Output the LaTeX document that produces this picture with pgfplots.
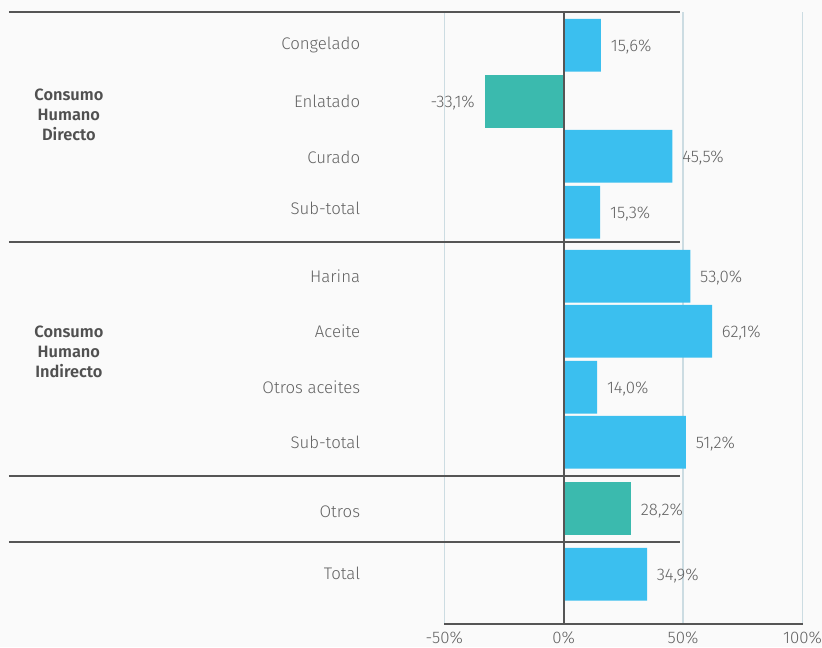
\documentclass[border=0pt]{standalone}
\usepackage{pgfplots}
\pgfplotsset{compat=1.18}
\usepackage{fontspec}
\setmainfont{Fira Sans Light}[BoldFont={Fira Sans SemiBold}]

\definecolor{bgc}{HTML}{FAFAFA}
\definecolor{barblue}{HTML}{3BBFEF}
\definecolor{barteal}{HTML}{3BBAAE}
\definecolor{linec}{HTML}{555555}
\definecolor{gridc}{HTML}{CCDCE2}
\definecolor{labc}{HTML}{626262}
\definecolor{grpc}{HTML}{505050}

\tikzset{cat/.style={anchor=base east, text=labc, inner sep=0pt},
         sep/.style={linec, line width=0.9pt},
         grp/.style={align=center, text=grpc, font=\fontsize{8.2}{9.85}\selectfont\bfseries}}

\begin{document}
\begin{tikzpicture}[font=\fontsize{8.4}{10}\selectfont]
\fill[bgc, use as bounding box] (-222.15pt,-11.5pt) rectangle (188.85pt,312pt);
\begin{axis}[
    at={(0pt,0pt)}, anchor=south west,
    scale only axis,
    width=179.1pt, height=306pt,
    xmin=-50, xmax=100,
    ymin=-624, ymax=-12,
    xbar, bar width=52.7, bar shift=0pt,
    axis x line*=bottom,
    axis y line=none,
    ytick=\empty,
    x axis line style={-, draw=linec, line width=0.9pt},
    xtick={-50,0,50,100},
    xticklabels={-50\%,0\%,50\%,100\%},
    major tick length=0pt,
    xmajorgrids,
    grid style={gridc, line width=0.75pt},
    xticklabel style={text=labc, inner sep=0pt, anchor=north, yshift=-3.8pt,
        font=\fontsize{8.4}{10}\selectfont},
    point meta=x,
    nodes near coords={\pgfmathprintnumber[fixed, fixed zerofill, precision=1,
        use comma, assume math mode=true]{\pgfplotspointmeta}\%},
    every node near coord/.append style={text=labc, inner xsep=4.75pt, inner ysep=0pt,
        yshift=-1pt, font=\fontsize{8.4}{10}\selectfont},
    clip=false,
]
% blue bars
\addplot[fill=barblue, draw=none,
    every node near coord/.append style={anchor=west}] coordinates {
(15.6,-45.3) (45.5,-156.3) (15.3,-212.3) (53.0,-276.3)
(62.1,-331.3) (14.0,-387.3) (51.2,-442.3) (34.9,-574.3)
};
% teal bars
\addplot[fill=barteal, draw=none,
    every node near coord/.append style={anchor=west}] coordinates {(28.2,-508.5)};
\addplot[fill=barteal, draw=none,
    every node near coord/.append style={anchor=east}] coordinates {(-33.1,-101.3)};

% zero line on top of the bars
\draw[sep] (axis cs:0,-12.3) -- (axis cs:0,-624);

% separators
\draw[sep] (axis cs:-232.3,-12.3) -- (axis cs:48.7,-12.3);
\draw[sep] (axis cs:-232.3,-242.3) -- (axis cs:48.7,-242.3);
\draw[sep] (axis cs:-232.3,-475.7) -- (axis cs:48.7,-475.7);
\draw[sep] (axis cs:-232.3,-541.7) -- (axis cs:48.7,-541.7);

% category labels
\node[cat] at (axis cs:-85.1,-49.3) {Congelado};
\node[cat] at (axis cs:-85.1,-107.3) {Enlatado};
\node[cat] at (axis cs:-85.1,-163.3) {Curado};
\node[cat] at (axis cs:-85.1,-214.5) {Sub-total};
\node[cat] at (axis cs:-85.1,-283) {Harina};
\node[cat] at (axis cs:-85.1,-337.3) {Aceite};
\node[cat] at (axis cs:-85.1,-393.3) {Otros aceites};
\node[cat] at (axis cs:-85.1,-448) {Sub-total};
\node[cat] at (axis cs:-85.1,-517) {Otros};
\node[cat] at (axis cs:-85.1,-579.5) {Total};

% group labels
\node[grp] at (axis cs:-207.2,-115) {Consumo\\Humano\\Directo};
\node[grp] at (axis cs:-207.2,-351.7) {Consumo\\Humano\\Indirecto};
\end{axis}
\end{tikzpicture}
\end{document}
